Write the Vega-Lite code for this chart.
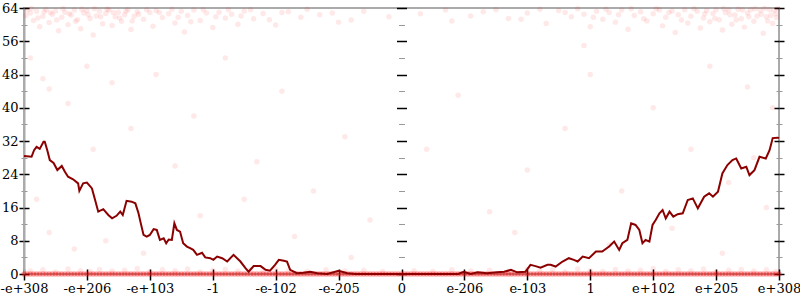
{
  "$schema": "https://vega.github.io/schema/vega-lite/v6.json",
  "width": 755,
  "height": 266,
  "autosize": {"type": "none"},
  "padding": {"left": 24, "top": 8, "right": 21, "bottom": 26},
  "background": "white",
  "config": {
    "font": "DejaVu Serif",
    "view": {"stroke": "#aaaaaa", "strokeWidth": 2},
    "axis": {"labelFont": "DejaVu Serif", "labelFontSize": 13, "labelColor": "black", "grid": false, "domainColor": "#aaaaaa", "domainWidth": 2, "tickColor": "black", "title": null, "labelOverlap": false, "labelFlush": false, "labelBound": false}
  },
  "datasets": {
    "pts": [
      {"x":-5.95,"y":63.5},{"x":-5.9,"y":62.8},{"x":-5.85,"y":61},{"x":-5.8,"y":63.2},{"x":-5.75,"y":59.5},{"x":-5.7,"y":62},{"x":-5.65,"y":63.6},{"x":-5.6,"y":60.5},{"x":-5.55,"y":62.5},{"x":-5.5,"y":63.3},{"x":-5.45,"y":58.5},{"x":-5.4,"y":61.8},{"x":-5.35,"y":63},{"x":-5.3,"y":60},{"x":-5.25,"y":62.3},{"x":-5.2,"y":63.5},{"x":-5.15,"y":61.2},{"x":-5.1,"y":59},{"x":-5.05,"y":62.8},{"x":-5.0,"y":63.4},{"x":-4.95,"y":61.5},{"x":-4.9,"y":57.5},{"x":-4.85,"y":62.1},{"x":-4.8,"y":63.2},{"x":-4.75,"y":60.2},{"x":-4.7,"y":62.7},{"x":-4.65,"y":63.5},{"x":-4.6,"y":59.8},{"x":-4.55,"y":61.9},{"x":-4.5,"y":63},{"x":-4.45,"y":60.8},{"x":-4.4,"y":62.4},{"x":-4.35,"y":63.6},{"x":-4.3,"y":58.8},{"x":-4.25,"y":62},{"x":-4.2,"y":63.1},{"x":-4.1,"y":61.3},{"x":-4.0,"y":62.9},{"x":-3.95,"y":59.6},{"x":-3.9,"y":63.4},{"x":-3.8,"y":61.7},{"x":-3.7,"y":62.6},{"x":-3.6,"y":60.4},{"x":-3.5,"y":63.2},{"x":-3.45,"y":58.2},{"x":-3.4,"y":62.2},{"x":-3.3,"y":63.5},{"x":-3.2,"y":61},{"x":-3.1,"y":62.8},{"x":-3.0,"y":59.3},{"x":-2.9,"y":63},{"x":-2.8,"y":61.6},{"x":-2.7,"y":62.5},{"x":-2.6,"y":60.1},{"x":-2.5,"y":63.3},{"x":-2.35,"y":61.4},{"x":-2.2,"y":62.7},{"x":-2.0,"y":59.9},{"x":-1.8,"y":63.1},{"x":-1.6,"y":61.8},{"x":-1.3,"y":62.4},{"x":-1.0,"y":60.6},{"x":-0.6,"y":63.2},{"x":-0.2,"y":61.9},
      {"x":-5.97,"y":62.2},{"x":-5.88,"y":63.9},{"x":-5.78,"y":61.6},{"x":-5.68,"y":63.1},{"x":-5.58,"y":62.9},{"x":-5.48,"y":61.1},{"x":-5.38,"y":63.8},{"x":-5.28,"y":62.6},{"x":-5.18,"y":60.8},{"x":-5.08,"y":63.7},{"x":-4.98,"y":62.4},{"x":-4.88,"y":63.8},{"x":-4.78,"y":61.9},{"x":-4.68,"y":63.7},{"x":-4.58,"y":62.9},{"x":-4.48,"y":61.6},{"x":-4.38,"y":63.2},{"x":-4.28,"y":60.9},{"x":-4.18,"y":62.5},{"x":-4.05,"y":63.6},{"x":-3.85,"y":62.9},{"x":-3.65,"y":63.7},{"x":-3.55,"y":61.8},{"x":-3.35,"y":60.7},{"x":-3.15,"y":63.6},{"x":-2.95,"y":61.9},{"x":-2.75,"y":63.6},{"x":-2.55,"y":62.1},{"x":-2.4,"y":63.6},{"x":-2.1,"y":61.2},{"x":-1.9,"y":62.9},{"x":-1.5,"y":63.7},{"x":-1.1,"y":62.8},{"x":-0.8,"y":61.1},
      {"x":0.3,"y":62.6},{"x":0.8,"y":60.9},{"x":1.3,"y":63.1},{"x":1.7,"y":61.5},{"x":2.0,"y":62.8},{"x":2.3,"y":60.3},{"x":2.5,"y":63.4},{"x":2.7,"y":61.9},{"x":2.9,"y":62.5},{"x":3.0,"y":59.5},{"x":3.1,"y":63.2},{"x":3.2,"y":61.3},{"x":3.3,"y":62.9},{"x":3.4,"y":60.6},{"x":3.5,"y":63.5},{"x":3.6,"y":58.9},{"x":3.7,"y":62.2},{"x":3.8,"y":63.1},{"x":3.9,"y":60.9},{"x":4.0,"y":62.6},{"x":4.1,"y":63.5},{"x":4.15,"y":59.7},{"x":4.2,"y":61.8},{"x":4.3,"y":63.3},{"x":4.35,"y":58.1},{"x":4.4,"y":62.4},{"x":4.5,"y":63.6},{"x":4.55,"y":60.4},{"x":4.6,"y":62},{"x":4.7,"y":63.2},{"x":4.75,"y":59.2},{"x":4.8,"y":61.6},{"x":4.85,"y":63.4},{"x":4.9,"y":60.7},{"x":4.95,"y":62.7},{"x":5.0,"y":63.6},{"x":5.05,"y":61.2},{"x":5.1,"y":58.7},{"x":5.15,"y":62.9},{"x":5.2,"y":63.5},{"x":5.25,"y":60.1},{"x":5.3,"y":62.3},{"x":5.35,"y":63.7},{"x":5.4,"y":61.4},{"x":5.45,"y":59.4},{"x":5.5,"y":62.8},{"x":5.55,"y":63.6},{"x":5.6,"y":60.8},{"x":5.65,"y":62.1},{"x":5.7,"y":63.4},{"x":5.75,"y":57.9},{"x":5.8,"y":61.9},{"x":5.85,"y":63.6},{"x":5.9,"y":60.3},{"x":5.95,"y":62.6},{"x":5.98,"y":63.8},
      {"x":0.7,"y":63.5},{"x":1.1,"y":62.1},{"x":1.5,"y":63.6},{"x":1.9,"y":61.3},{"x":2.2,"y":63.7},{"x":2.6,"y":62.9},{"x":2.8,"y":63.8},{"x":3.05,"y":61.8},{"x":3.25,"y":63.7},{"x":3.45,"y":62.4},{"x":3.65,"y":63.8},{"x":3.85,"y":61.4},{"x":4.05,"y":63.8},{"x":4.25,"y":62.9},{"x":4.45,"y":61.1},{"x":4.65,"y":63.8},{"x":4.82,"y":62.6},{"x":4.98,"y":61.5},{"x":5.12,"y":63.8},{"x":5.22,"y":62.4},{"x":5.32,"y":61.1},{"x":5.42,"y":63.5},{"x":5.52,"y":61.9},{"x":5.62,"y":63.8},{"x":5.72,"y":62.5},{"x":5.82,"y":60.9},{"x":5.92,"y":63.4},{"x":5.96,"y":61.7},{"x":5.87,"y":62.2},{"x":5.77,"y":63.9},
      {"x":-5.9,"y":52},{"x":-5.7,"y":47},{"x":-5.6,"y":44.5},{"x":-5.3,"y":41},{"x":-5.0,"y":50},{"x":-4.6,"y":46},{"x":-4.3,"y":35},{"x":-3.9,"y":48},{"x":-3.3,"y":38},{"x":-2.8,"y":52},{"x":-2.3,"y":27},{"x":-1.9,"y":44},{"x":-1.4,"y":20},{"x":-0.9,"y":33},{"x":-0.5,"y":13},{"x":-5.6,"y":10},{"x":-5.2,"y":6},{"x":-4.7,"y":8},{"x":-4.1,"y":5},{"x":-3.2,"y":14},{"x":-2.5,"y":18},{"x":-1.7,"y":9},{"x":-0.8,"y":4},{"x":-5.8,"y":18},{"x":-4.9,"y":30},{"x":-3.6,"y":26},
      {"x":0.9,"y":43},{"x":1.4,"y":15},{"x":2.0,"y":25},{"x":2.6,"y":35},{"x":3.0,"y":48},{"x":3.5,"y":20},{"x":4.0,"y":40},{"x":4.3,"y":11},{"x":4.6,"y":30},{"x":4.9,"y":50},{"x":5.2,"y":22},{"x":5.5,"y":45},{"x":5.8,"y":16},{"x":5.9,"y":40},{"x":1.8,"y":10},{"x":3.3,"y":7},{"x":5.1,"y":5},{"x":5.6,"y":28},{"x":0.4,"y":30},{"x":2.9,"y":55},
      {"x":-5.9,"y":0.7},{"x":-5.7,"y":1.0},{"x":-5.5,"y":0.5},{"x":-5.3,"y":1.2},{"x":-5.1,"y":0.8},{"x":-4.95,"y":0.6},{"x":-4.8,"y":1.1},{"x":-4.6,"y":0.7},{"x":-4.4,"y":0.9},{"x":-4.2,"y":1.3},{"x":-4.0,"y":0.6},{"x":-3.8,"y":1.0},{"x":-3.6,"y":0.8},{"x":-3.4,"y":1.2},{"x":-3.2,"y":0.5},{"x":-3.0,"y":0.9},{"x":-2.8,"y":1.1},{"x":-2.6,"y":0.7},{"x":-2.4,"y":1.0},{"x":-2.2,"y":0.6},{"x":-2.0,"y":1.2},{"x":-1.8,"y":0.8},{"x":-1.5,"y":0.6},{"x":-1.2,"y":1.0},{"x":-0.9,"y":0.7},{"x":-0.6,"y":0.9},{"x":-0.3,"y":0.6},
      {"x":0.2,"y":0.8},{"x":0.5,"y":0.6},{"x":0.8,"y":1.0},{"x":1.1,"y":0.7},{"x":1.4,"y":0.9},{"x":1.7,"y":0.6},{"x":2.0,"y":1.1},{"x":2.2,"y":0.7},{"x":2.4,"y":1.0},{"x":2.6,"y":0.5},{"x":2.8,"y":1.2},{"x":3.0,"y":0.8},{"x":3.2,"y":0.6},{"x":3.4,"y":1.1},{"x":3.6,"y":0.7},{"x":3.8,"y":0.9},{"x":4.0,"y":1.3},{"x":4.2,"y":0.6},{"x":4.4,"y":1.0},{"x":4.6,"y":0.8},{"x":4.8,"y":1.2},{"x":5.0,"y":0.5},{"x":5.2,"y":0.9},{"x":5.4,"y":1.1},{"x":5.6,"y":0.7},{"x":5.8,"y":1.0},{"x":5.95,"y":0.6}
    ],
    "zeros": [
      {"x":-6.0,"y":0},{"x":-5.95,"y":0},{"x":-5.9,"y":0},{"x":-5.85,"y":0},{"x":-5.8,"y":0},{"x":-5.75,"y":0},{"x":-5.7,"y":0},{"x":-5.65,"y":0},{"x":-5.6,"y":0},{"x":-5.55,"y":0},{"x":-5.5,"y":0},{"x":-5.45,"y":0},{"x":-5.4,"y":0},{"x":-5.35,"y":0},{"x":-5.3,"y":0},{"x":-5.25,"y":0},{"x":-5.2,"y":0},{"x":-5.15,"y":0},{"x":-5.1,"y":0},{"x":-5.05,"y":0},
      {"x":-5.0,"y":0},{"x":-4.95,"y":0},{"x":-4.9,"y":0},{"x":-4.85,"y":0},{"x":-4.8,"y":0},{"x":-4.75,"y":0},{"x":-4.7,"y":0},{"x":-4.65,"y":0},{"x":-4.6,"y":0},{"x":-4.55,"y":0},{"x":-4.5,"y":0},{"x":-4.45,"y":0},{"x":-4.4,"y":0},{"x":-4.35,"y":0},{"x":-4.3,"y":0},{"x":-4.25,"y":0},{"x":-4.2,"y":0},{"x":-4.15,"y":0},{"x":-4.1,"y":0},{"x":-4.05,"y":0},
      {"x":-4.0,"y":0},{"x":-3.95,"y":0},{"x":-3.9,"y":0},{"x":-3.85,"y":0},{"x":-3.8,"y":0},{"x":-3.75,"y":0},{"x":-3.7,"y":0},{"x":-3.65,"y":0},{"x":-3.6,"y":0},{"x":-3.55,"y":0},{"x":-3.5,"y":0},{"x":-3.45,"y":0},{"x":-3.4,"y":0},{"x":-3.35,"y":0},{"x":-3.3,"y":0},{"x":-3.25,"y":0},{"x":-3.2,"y":0},{"x":-3.15,"y":0},{"x":-3.1,"y":0},{"x":-3.05,"y":0},
      {"x":-3.0,"y":0},{"x":-2.95,"y":0},{"x":-2.9,"y":0},{"x":-2.85,"y":0},{"x":-2.8,"y":0},{"x":-2.75,"y":0},{"x":-2.7,"y":0},{"x":-2.65,"y":0},{"x":-2.6,"y":0},{"x":-2.55,"y":0},{"x":-2.5,"y":0},{"x":-2.45,"y":0},{"x":-2.4,"y":0},{"x":-2.35,"y":0},{"x":-2.3,"y":0},{"x":-2.25,"y":0},{"x":-2.2,"y":0},{"x":-2.15,"y":0},{"x":-2.1,"y":0},{"x":-2.05,"y":0},
      {"x":-2.0,"y":0},{"x":-1.95,"y":0},{"x":-1.9,"y":0},{"x":-1.85,"y":0},{"x":-1.8,"y":0},{"x":-1.75,"y":0},{"x":-1.7,"y":0},{"x":-1.65,"y":0},{"x":-1.6,"y":0},{"x":-1.55,"y":0},{"x":-1.5,"y":0},{"x":-1.45,"y":0},{"x":-1.4,"y":0},{"x":-1.35,"y":0},{"x":-1.3,"y":0},{"x":-1.25,"y":0},{"x":-1.2,"y":0},{"x":-1.15,"y":0},{"x":-1.1,"y":0},{"x":-1.05,"y":0},
      {"x":-1.0,"y":0},{"x":-0.95,"y":0},{"x":-0.9,"y":0},{"x":-0.85,"y":0},{"x":-0.8,"y":0},{"x":-0.75,"y":0},{"x":-0.7,"y":0},{"x":-0.65,"y":0},{"x":-0.6,"y":0},{"x":-0.55,"y":0},{"x":-0.5,"y":0},{"x":-0.45,"y":0},{"x":-0.4,"y":0},{"x":-0.35,"y":0},{"x":-0.3,"y":0},{"x":-0.25,"y":0},{"x":-0.2,"y":0},{"x":-0.15,"y":0},{"x":-0.1,"y":0},{"x":-0.05,"y":0},
      {"x":0.0,"y":0},{"x":0.05,"y":0},{"x":0.1,"y":0},{"x":0.15,"y":0},{"x":0.2,"y":0},{"x":0.25,"y":0},{"x":0.3,"y":0},{"x":0.35,"y":0},{"x":0.4,"y":0},{"x":0.45,"y":0},{"x":0.5,"y":0},{"x":0.55,"y":0},{"x":0.6,"y":0},{"x":0.65,"y":0},{"x":0.7,"y":0},{"x":0.75,"y":0},{"x":0.8,"y":0},{"x":0.85,"y":0},{"x":0.9,"y":0},{"x":0.95,"y":0},
      {"x":1.0,"y":0},{"x":1.05,"y":0},{"x":1.1,"y":0},{"x":1.15,"y":0},{"x":1.2,"y":0},{"x":1.25,"y":0},{"x":1.3,"y":0},{"x":1.35,"y":0},{"x":1.4,"y":0},{"x":1.45,"y":0},{"x":1.5,"y":0},{"x":1.55,"y":0},{"x":1.6,"y":0},{"x":1.65,"y":0},{"x":1.7,"y":0},{"x":1.75,"y":0},{"x":1.8,"y":0},{"x":1.85,"y":0},{"x":1.9,"y":0},{"x":1.95,"y":0},
      {"x":2.0,"y":0},{"x":2.05,"y":0},{"x":2.1,"y":0},{"x":2.15,"y":0},{"x":2.2,"y":0},{"x":2.25,"y":0},{"x":2.3,"y":0},{"x":2.35,"y":0},{"x":2.4,"y":0},{"x":2.45,"y":0},{"x":2.5,"y":0},{"x":2.55,"y":0},{"x":2.6,"y":0},{"x":2.65,"y":0},{"x":2.7,"y":0},{"x":2.75,"y":0},{"x":2.8,"y":0},{"x":2.85,"y":0},{"x":2.9,"y":0},{"x":2.95,"y":0},
      {"x":3.0,"y":0},{"x":3.05,"y":0},{"x":3.1,"y":0},{"x":3.15,"y":0},{"x":3.2,"y":0},{"x":3.25,"y":0},{"x":3.3,"y":0},{"x":3.35,"y":0},{"x":3.4,"y":0},{"x":3.45,"y":0},{"x":3.5,"y":0},{"x":3.55,"y":0},{"x":3.6,"y":0},{"x":3.65,"y":0},{"x":3.7,"y":0},{"x":3.75,"y":0},{"x":3.8,"y":0},{"x":3.85,"y":0},{"x":3.9,"y":0},{"x":3.95,"y":0},
      {"x":4.0,"y":0},{"x":4.05,"y":0},{"x":4.1,"y":0},{"x":4.15,"y":0},{"x":4.2,"y":0},{"x":4.25,"y":0},{"x":4.3,"y":0},{"x":4.35,"y":0},{"x":4.4,"y":0},{"x":4.45,"y":0},{"x":4.5,"y":0},{"x":4.55,"y":0},{"x":4.6,"y":0},{"x":4.65,"y":0},{"x":4.7,"y":0},{"x":4.75,"y":0},{"x":4.8,"y":0},{"x":4.85,"y":0},{"x":4.9,"y":0},{"x":4.95,"y":0},
      {"x":5.0,"y":0},{"x":5.05,"y":0},{"x":5.1,"y":0},{"x":5.15,"y":0},{"x":5.2,"y":0},{"x":5.25,"y":0},{"x":5.3,"y":0},{"x":5.35,"y":0},{"x":5.4,"y":0},{"x":5.45,"y":0},{"x":5.5,"y":0},{"x":5.55,"y":0},{"x":5.6,"y":0},{"x":5.65,"y":0},{"x":5.7,"y":0},{"x":5.75,"y":0},{"x":5.8,"y":0},{"x":5.85,"y":0},{"x":5.9,"y":0},{"x":5.95,"y":0},{"x":6.0,"y":0}
    ],
    "avg": [
      {"x":-6.0,"y":28.4},{"x":-5.88,"y":28.2},{"x":-5.84,"y":29.8},{"x":-5.8,"y":30.6},{"x":-5.75,"y":30.1},{"x":-5.69,"y":31.8},{"x":-5.67,"y":31.8},{"x":-5.63,"y":29.8},{"x":-5.59,"y":27.4},{"x":-5.53,"y":26.7},{"x":-5.47,"y":25.0},{"x":-5.4,"y":26.0},{"x":-5.35,"y":24.6},{"x":-5.3,"y":23.4},{"x":-5.22,"y":22.8},{"x":-5.14,"y":21.8},{"x":-5.12,"y":20.0},{"x":-5.06,"y":21.8},{"x":-5.0,"y":22.0},{"x":-4.92,"y":20.6},{"x":-4.87,"y":17.8},{"x":-4.82,"y":15.0},{"x":-4.74,"y":15.6},{"x":-4.66,"y":14.2},{"x":-4.6,"y":13.4},{"x":-4.53,"y":14.0},{"x":-4.47,"y":15.0},{"x":-4.43,"y":14.2},{"x":-4.37,"y":17.6},{"x":-4.29,"y":17.4},{"x":-4.23,"y":17.0},{"x":-4.18,"y":14.6},{"x":-4.15,"y":12.6},{"x":-4.1,"y":9.4},{"x":-4.05,"y":9.0},{"x":-4.0,"y":9.4},{"x":-3.94,"y":10.8},{"x":-3.89,"y":10.6},{"x":-3.84,"y":8.2},{"x":-3.78,"y":8.6},{"x":-3.74,"y":7.4},{"x":-3.7,"y":8.3},{"x":-3.65,"y":8.2},{"x":-3.61,"y":12.2},{"x":-3.57,"y":10.6},{"x":-3.52,"y":10.2},{"x":-3.47,"y":7.4},{"x":-3.41,"y":6.6},{"x":-3.36,"y":6.2},{"x":-3.31,"y":5.8},{"x":-3.25,"y":4.6},{"x":-3.17,"y":5.1},{"x":-3.12,"y":4.0},{"x":-3.04,"y":3.8},{"x":-2.99,"y":3.4},{"x":-2.93,"y":4.2},{"x":-2.85,"y":3.8},{"x":-2.77,"y":3.0},{"x":-2.67,"y":4.6},{"x":-2.56,"y":3.0},{"x":-2.48,"y":1.4},{"x":-2.43,"y":0.55},{"x":-2.35,"y":1.9},{"x":-2.24,"y":1.9},{"x":-2.16,"y":1.0},{"x":-2.09,"y":0.8},{"x":-2.01,"y":2.2},{"x":-1.95,"y":3.4},{"x":-1.87,"y":3.2},{"x":-1.82,"y":3.0},{"x":-1.77,"y":1.0},{"x":-1.66,"y":0.2},{"x":-1.56,"y":0.3},{"x":-1.45,"y":0.55},{"x":-1.34,"y":0.2},{"x":-1.18,"y":0.0},{"x":-1.0,"y":0.8},{"x":-0.86,"y":0.2},{"x":-0.73,"y":0.0},{"x":0.0,"y":0.0},{"x":0.9,"y":0.0},
      {"x":0.99,"y":0.55},{"x":1.1,"y":0.0},{"x":1.21,"y":0.4},{"x":1.36,"y":0.2},{"x":1.52,"y":0.4},{"x":1.63,"y":0.55},{"x":1.74,"y":1.0},{"x":1.84,"y":0.4},{"x":1.97,"y":0.55},{"x":2.05,"y":2.2},{"x":2.13,"y":1.9},{"x":2.21,"y":1.5},{"x":2.32,"y":2.2},{"x":2.37,"y":2.2},{"x":2.45,"y":1.8},{"x":2.56,"y":3.0},{"x":2.66,"y":3.8},{"x":2.74,"y":3.4},{"x":2.8,"y":3.0},{"x":2.88,"y":4.2},{"x":2.98,"y":3.8},{"x":3.09,"y":5.4},{"x":3.19,"y":5.4},{"x":3.3,"y":6.6},{"x":3.38,"y":7.8},{"x":3.46,"y":5.8},{"x":3.51,"y":7.4},{"x":3.59,"y":8.2},{"x":3.65,"y":12.2},{"x":3.72,"y":11.8},{"x":3.78,"y":10.6},{"x":3.83,"y":7.4},{"x":3.88,"y":8.2},{"x":3.94,"y":7.8},{"x":3.99,"y":11.8},{"x":4.04,"y":13.0},{"x":4.1,"y":14.6},{"x":4.15,"y":15.4},{"x":4.2,"y":13.4},{"x":4.26,"y":15.0},{"x":4.32,"y":13.8},{"x":4.39,"y":14.4},{"x":4.47,"y":14.6},{"x":4.55,"y":17.8},{"x":4.63,"y":18.2},{"x":4.71,"y":15.8},{"x":4.81,"y":18.6},{"x":4.89,"y":19.4},{"x":4.95,"y":18.6},{"x":5.03,"y":19.8},{"x":5.1,"y":24.2},{"x":5.18,"y":26.2},{"x":5.26,"y":27.4},{"x":5.32,"y":27.8},{"x":5.4,"y":25.4},{"x":5.48,"y":25.8},{"x":5.53,"y":23.8},{"x":5.61,"y":25.0},{"x":5.69,"y":28.2},{"x":5.79,"y":27.8},{"x":5.85,"y":29.8},{"x":5.9,"y":32.7},{"x":5.98,"y":32.8},{"x":6.0,"y":32.7}
    ]
  },
  "resolve": {"axis": {"x": "independent", "y": "independent"}},
  "layer": [
    {
      "data": {"name": "pts"},
      "mark": {"type": "circle", "color": "#ff0000", "opacity": 0.09, "size": 30},
      "encoding": {
        "x": {"field": "x", "type": "quantitative", "scale": {"domain": [-6, 6], "nice": false, "zero": false},
          "axis": {"orient": "bottom", "values": [-6,-5,-4,-3,-2,-1,0,1,2,3,4,5,6], "domain": false, "tickSize": 6, "tickWidth": 1.5, "labelPadding": 2, "labelFont": "DejaVu Serif", "labelFontSize": 13, "labelOverlap": false, "labelFlush": false,
            "labelExpr": "['-e+308','-e+206','-e+103','-1','-e-102','-e-205','0','e-206','e-103','1','e+102','e+205','e+308'][datum.value + 6]"}},
        "y": {"field": "y", "type": "quantitative", "scale": {"domain": [0, 64], "nice": false},
          "axis": {"orient": "left", "values": [0,4,8,12,16,20,24,28,32,36,40,44,48,52,56,60,64], "labelExpr": "datum.value % 8 === 0 ? datum.label : ''", "labelPadding": 1, "labelFont": "DejaVu Serif", "labelFontSize": 13, "labelOverlap": false,
            "tickSize": {"condition": {"test": "datum.value % 8 === 0", "value": 5}, "value": 3},
            "tickColor": {"condition": {"test": "datum.value % 8 === 0", "value": "black"}, "value": "#999999"},
            "tickWidth": {"condition": {"test": "datum.value % 8 === 0", "value": 1.5}, "value": 1}}}
      }
    },
    {
      "data": {"name": "zeros"},
      "mark": {"type": "circle", "color": "#ff0000", "opacity": 0.35, "size": 30},
      "encoding": {
        "x": {"field": "x", "type": "quantitative", "axis": null},
        "y": {"field": "y", "type": "quantitative",
          "axis": {"orient": "right", "offset": -755, "values": [0,4,8,12,16,20,24,28,32,36,40,44,48,52,56,60,64], "labels": false, "domain": false,
            "tickSize": {"condition": {"test": "datum.value % 8 === 0", "value": 5}, "value": 3},
            "tickColor": {"condition": {"test": "datum.value % 8 === 0", "value": "black"}, "value": "#999999"},
            "tickWidth": {"condition": {"test": "datum.value % 8 === 0", "value": 1.5}, "value": 1}}}
      }
    },
    {
      "mark": {"type": "rule", "color": "#aaaaaa", "strokeWidth": 2},
      "encoding": {
        "x": {"datum": 0, "type": "quantitative", "axis": null},
        "y": {"datum": 0, "type": "quantitative",
          "axis": {"orient": "left", "offset": -377.5, "values": [0,4,8,12,16,20,24,28,32,36,40,44,48,52,56,60,64], "labels": false, "domain": false,
            "tickSize": {"condition": {"test": "datum.value % 8 === 0", "value": 5}, "value": 3},
            "tickColor": {"condition": {"test": "datum.value % 8 === 0", "value": "black"}, "value": "#999999"},
            "tickWidth": {"condition": {"test": "datum.value % 8 === 0", "value": 1.5}, "value": 1}}},
        "y2": {"datum": 64}
      }
    },
    {
      "mark": {"type": "rule", "color": "#aaaaaa", "strokeWidth": 2},
      "encoding": {
        "x": {"datum": 6, "type": "quantitative", "axis": null},
        "y": {"datum": 0, "type": "quantitative",
          "axis": {"orient": "right", "offset": 0, "values": [0,4,8,12,16,20,24,28,32,36,40,44,48,52,56,60,64], "labels": false, "domain": false,
            "tickSize": {"condition": {"test": "datum.value % 8 === 0", "value": 5}, "value": 3},
            "tickColor": {"condition": {"test": "datum.value % 8 === 0", "value": "black"}, "value": "#999999"},
            "tickWidth": {"condition": {"test": "datum.value % 8 === 0", "value": 1.5}, "value": 1}}},
        "y2": {"datum": 64}
      }
    },
    {
      "mark": {"type": "rule", "color": "#aaaaaa", "strokeWidth": 2},
      "encoding": {
        "x": {"datum": -6, "type": "quantitative",
          "axis": {"orient": "top", "offset": -266, "values": [-6,-5,-4,-3,-2,-1,0,1,2,3,4,5,6], "labels": false, "domain": false, "tickSize": 5, "tickWidth": 1.5}},
        "x2": {"datum": 6},
        "y": {"datum": 64, "type": "quantitative",
          "axis": {"orient": "left", "offset": -755, "values": [0,4,8,12,16,20,24,28,32,36,40,44,48,52,56,60,64], "labels": false, "domain": false,
            "tickSize": {"condition": {"test": "datum.value % 8 === 0", "value": 5}, "value": 3},
            "tickColor": {"condition": {"test": "datum.value % 8 === 0", "value": "black"}, "value": "#999999"},
            "tickWidth": {"condition": {"test": "datum.value % 8 === 0", "value": 1.5}, "value": 1}}}
      }
    },
    {
      "data": {"name": "avg"},
      "mark": {"type": "line", "color": "#8b0000", "strokeWidth": 2},
      "encoding": {
        "x": {"field": "x", "type": "quantitative", "axis": null},
        "y": {"field": "y", "type": "quantitative",
          "axis": {"orient": "right", "offset": -377.5, "values": [0,4,8,12,16,20,24,28,32,36,40,44,48,52,56,60,64], "labels": false, "domain": false,
            "tickSize": {"condition": {"test": "datum.value % 8 === 0", "value": 5}, "value": 3},
            "tickColor": {"condition": {"test": "datum.value % 8 === 0", "value": "black"}, "value": "#999999"},
            "tickWidth": {"condition": {"test": "datum.value % 8 === 0", "value": 1.5}, "value": 1}}}
      }
    }
  ]
}
